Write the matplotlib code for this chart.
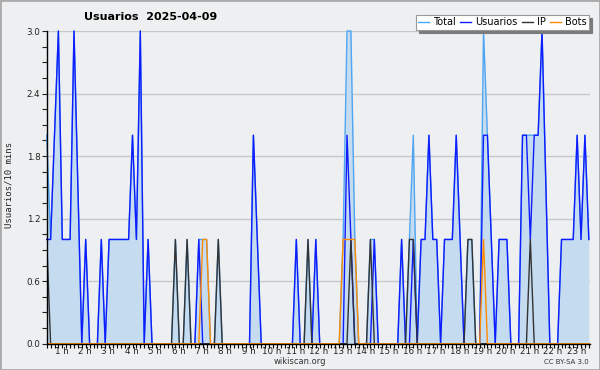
import numpy as np
import matplotlib
matplotlib.use('Agg')
import matplotlib.pyplot as plt
from matplotlib.patches import Rectangle
from matplotlib.lines import Line2D

# one value per 10 minutes
total = [2, 1, 2, 3, 1, 1, 1, 3, 1.5, 0,
         1, 0, 0, 0, 1, 0, 1, 1, 1, 1,
         1, 1, 2, 1, 3, 0, 1, 0, 0, 0,
         0, 0, 0, 1, 0, 0, 1, 0, 0, 1,
         1, 1, 0, 0, 1, 0, 0, 0, 0, 0,
         0, 0, 0, 2, 1, 0, 0, 0, 0, 0,
         0, 0, 0, 0, 1, 0, 0, 1, 0, 1,
         0, 0, 0, 0, 0, 0, 1, 3, 3, 1,
         0, 0, 0, 1, 1, 0, 0, 0, 0, 0,
         0, 1, 0, 1, 2, 0, 1, 1, 2, 1,
         1, 0, 1, 1, 1, 2, 1, 0, 1, 1,
         0, 0, 3, 2, 1, 0, 1, 1, 1, 0,
         0, 0, 2, 2, 2, 2, 2, 3, 1.5, 0,
         0, 0, 1, 1, 1, 1, 2, 1, 2, 1]

usuarios = [1, 1, 2, 3, 1, 1, 1, 3, 1.5, 0,
            1, 0, 0, 0, 1, 0, 1, 1, 1, 1,
            1, 1, 2, 1, 3, 0, 1, 0, 0, 0,
            0, 0, 0, 0, 0, 0, 0, 0, 0, 1,
            0, 0, 0, 0, 0, 0, 0, 0, 0, 0,
            0, 0, 0, 2, 1, 0, 0, 0, 0, 0,
            0, 0, 0, 0, 1, 0, 0, 0, 0, 1,
            0, 0, 0, 0, 0, 0, 0, 2, 1, 0,
            0, 0, 0, 0, 1, 0, 0, 0, 0, 0,
            0, 1, 0, 0, 1, 0, 1, 1, 2, 1,
            1, 0, 1, 1, 1, 2, 1, 0, 0, 0,
            0, 0, 2, 2, 1, 0, 1, 1, 1, 0,
            0, 0, 2, 2, 1, 2, 2, 3, 1.5, 0,
            0, 0, 1, 1, 1, 1, 2, 1, 2, 1]

ip = [1, 0, 0, 0, 0, 0, 0, 0, 0, 0,
      0, 0, 0, 0, 0, 0, 0, 0, 0, 0,
      0, 0, 0, 0, 0, 0, 0, 0, 0, 0,
      0, 0, 0, 1, 0, 0, 1, 0, 0, 0,
      0, 0, 0, 0, 1, 0, 0, 0, 0, 0,
      0, 0, 0, 0, 0, 0, 0, 0, 0, 0,
      0, 0, 0, 0, 0, 0, 0, 1, 0, 0,
      0, 0, 0, 0, 0, 0, 0, 0, 1, 0,
      0, 0, 0, 1, 0, 0, 0, 0, 0, 0,
      0, 0, 0, 1, 1, 0, 0, 0, 0, 0,
      0, 0, 0, 0, 0, 0, 0, 0, 1, 1,
      0, 0, 0, 0, 0, 0, 0, 0, 0, 0,
      0, 0, 0, 0, 1, 0, 0, 0, 0, 0,
      0, 0, 0, 0, 0, 0, 0, 0, 0, 0]

bots = [0, 0, 0, 0, 0, 0, 0, 0, 0, 0,
        0, 0, 0, 0, 0, 0, 0, 0, 0, 0,
        0, 0, 0, 0, 0, 0, 0, 0, 0, 0,
        0, 0, 0, 0, 0, 0, 0, 0, 0, 0,
        1, 1, 0, 0, 0, 0, 0, 0, 0, 0,
        0, 0, 0, 0, 0, 0, 0, 0, 0, 0,
        0, 0, 0, 0, 0, 0, 0, 0, 0, 0,
        0, 0, 0, 0, 0, 0, 1, 1, 1, 1,
        0, 0, 0, 0, 0, 0, 0, 0, 0, 0,
        0, 0, 0, 0, 0, 0, 0, 0, 0, 0,
        0, 0, 0, 0, 0, 0, 0, 0, 0, 0,
        0, 0, 1, 0, 0, 0, 0, 0, 0, 0,
        0, 0, 0, 0, 0, 0, 0, 0, 0, 0,
        0, 0, 0, 0, 0, 0, 0, 0, 0, 0]

hours = list(range(1, 24))
hour_labels = ['%d h' % h for h in hours]
y_ticks = [0.0, 0.6, 1.2, 1.8, 2.4, 3.0]

bg = '#eeeff0'
c_total = '#4ea5f2'
c_fill = '#c5dcf0'
c_user = '#0f1cff'
c_ip = '#333333'
c_bots = '#ff8c00'

fig = plt.figure(figsize=(6, 3.7), dpi=100, facecolor=bg)
ax = fig.add_axes([46.7 / 600, 26.3 / 370, 543.3 / 600, 312.7 / 370])
ax.set_facecolor(bg)

x = np.arange(len(total))
ax.fill_between(x, total, 0, color=c_fill, lw=0)
ax.plot(x, total, color=c_total, lw=1.0, clip_on=False)
ax.plot(x, usuarios, color=c_user, lw=1.0, clip_on=False)
ax.plot(x, ip, color=c_ip, lw=1.0)
ax.plot(x, bots, color=c_bots, lw=1.0)

ax.set_xlim(0, 139.3)
ax.set_ylim(0, 3.0)

ax.set_yticks(y_ticks)
ax.set_yticklabels(['%.1f' % v for v in y_ticks])
ax.set_yticks(np.arange(0, 3.01, 0.15), minor=True)
ax.yaxis.grid(True, color='#c8c8c8', lw=1)
ax.set_axisbelow(True)

ax.set_xticks([6 * h - 2.2 for h in hours])
ax.set_xticklabels(hour_labels)
ax.set_xticks(x, minor=True)

ax.tick_params(axis='y', which='both', direction='out', length=3.5, width=0.8,
               labelsize=6.3, pad=1, colors='#222222')
ax.tick_params(axis='x', which='major', length=0, labelsize=6.3, pad=2.5,
               colors='#222222')
ax.tick_params(axis='x', which='minor', direction='out', length=3, width=0.8)

for s in ['top', 'right']:
    ax.spines[s].set_visible(False)
for s in ['left', 'bottom']:
    ax.spines[s].set_color('black')
    ax.spines[s].set_linewidth(1)

fig.text(151 / 600, 1 - 17 / 370, 'Usuarios  2025-04-09', ha='center', va='center',
         fontsize=8, fontweight='bold')
fig.text(9.5 / 600, 1 - 185 / 370, 'Usuarios/10 mins', rotation=90, ha='center',
         va='center', fontsize=6.5, family='DejaVu Sans Mono', color='#222222')
fig.text(300 / 600, 1 - 362 / 370, 'wikiscan.org', ha='center', va='center',
         fontsize=6, color='#333333')
fig.text(589 / 600, 1 - 362 / 370, 'CC BY-SA 3.0', ha='right', va='center',
         fontsize=5, color='#333333')

handles = [Line2D([], [], color=c, lw=1) for c in [c_total, c_user, c_ip, c_bots]]
leg = fig.legend(handles, ['Total', 'Usuarios', 'IP', 'Bots'], ncol=4,
                 loc='upper right', bbox_to_anchor=(589 / 600, 1 - 15 / 370),
                 frameon=True, fancybox=False,
                 shadow={'color': '#7a7a7a', 'alpha': 1.0},
                 fontsize=7, handlelength=1.1, handletextpad=0.4, columnspacing=0.5,
                 borderpad=0.25, borderaxespad=0)
leg.get_frame().set_edgecolor('#999999')
leg.get_frame().set_linewidth(0.8)

fig.patches.append(Rectangle((0, 0), 1, 1, transform=fig.transFigure, fill=False,
                             edgecolor='#aaaaaa', lw=2))

fig.savefig('out.png', dpi=100, facecolor=fig.get_facecolor())
